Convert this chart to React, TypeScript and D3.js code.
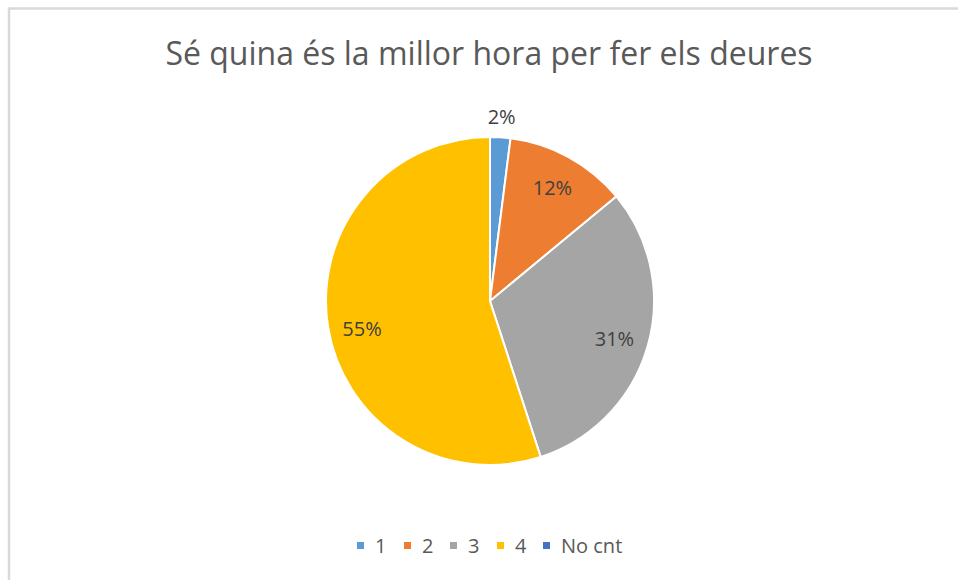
import React from "react";
import * as d3 from "d3";

const categories = ["1", "2", "3", "4", "No cnt"];
const values = [2, 12, 31, 55, 0];
const colors = ["#5B9BD5", "#ED7D31", "#A5A5A5", "#FFC000", "#4472C4"];
const title = "Sé quina és la millor hora per fer els deures";

const W = 958;
const H = 580;
const cx = 490;
const cy = 301;
const R = 164;
const FONT = "'Open Sans', 'Noto Sans', sans-serif";

export default function App() {
  const pie = d3.pie<number>().sort(null).value((d) => d);
  const arcs = pie(values);
  const arcGen = d3.arc<d3.PieArcDatum<number>>().innerRadius(0).outerRadius(R);
  const total = d3.sum(values);

  const legendX = [357, 404, 450, 497, 543];

  return (
    <svg
      width={W}
      height={H}
      style={{ position: "absolute", left: 0, top: 0, background: "#fff" }}
      fontFamily={FONT}
    >
      <rect x={9} y={8.5} width={W + 10} height={H + 10} fill="#fff" stroke="#D9D9D9" strokeWidth={2.5} />
      <text x={489} y={52} textAnchor="middle" dominantBaseline="central" fontSize={32} fill="#595959">
        {title}
      </text>
      <g transform={`translate(${cx},${cy})`}>
        {arcs.map((a, i) =>
          a.value > 0 ? (
            <path key={i} d={arcGen(a) || ""} fill={colors[i]} stroke="#fff" strokeWidth={2} />
          ) : null
        )}
        {arcs.map((a, i) => {
          if (a.value <= 0) return null;
          const mid = (a.startAngle + a.endAngle) / 2;
          const frac = a.value / total;
          const r = frac < 0.05 ? R + 21 : R * 0.79;
          const x = Math.sin(mid) * r;
          const y = -Math.cos(mid) * r + (frac < 0.05 ? -0 : Math.max(0, -Math.cos(mid)) * 6 + (mid > Math.PI ? 6 : 0));
          return (
            <text key={i} x={x} y={y} textAnchor="middle" dominantBaseline="central" fontSize={20} fill="#404040">
              {d3.format(".0%")(frac)}
            </text>
          );
        })}
      </g>
      {categories.map((c, i) => (
        <g key={c} transform={`translate(${legendX[i]},545.5)`}>
          <rect x={0} y={-3.5} width={7} height={7} fill={colors[i]} />
          <text x={18} y={0} dominantBaseline="central" fontSize={20} fill="#595959">
            {c}
          </text>
        </g>
      ))}
    </svg>
  );
}
